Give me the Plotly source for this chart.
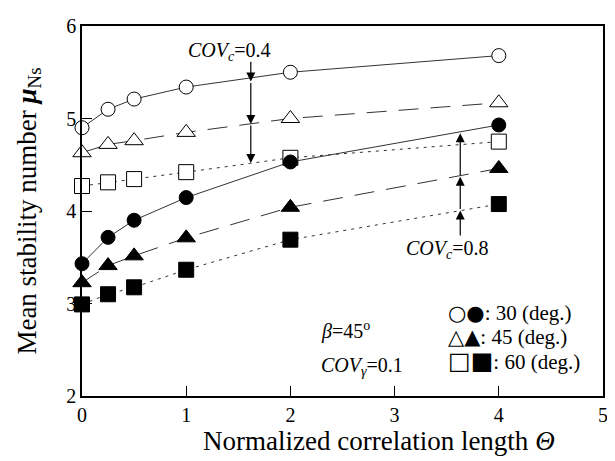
import plotly.graph_objects as go

# ---- data ----
theta = [0, 0.25, 0.5, 1, 2, 4]
# COVc = 0.4 (open markers)
open_30 = [4.90, 5.10, 5.21, 5.34, 5.50, 5.68]
open_45 = [4.63, 4.72, 4.76, 4.85, 5.00, 5.17]
open_60 = [4.27, 4.31, 4.345, 4.42, 4.575, 4.75]
# COVc = 0.8 (filled markers)
filled_30 = [3.43, 3.715, 3.90, 4.145, 4.53, 4.93]
filled_45 = [3.225, 3.41, 3.515, 3.71, 4.04, 4.46]
filled_60 = [2.99, 3.10, 3.175, 3.365, 3.69, 4.075]

x_ticks = [0, 1, 2, 3, 4, 5]
y_ticks = [2, 3, 4, 5, 6]

# arrow guides (x position, successive y stops)
arrow04_x = 1.62
arrow04_y = [5.63, 5.40, 4.94, 4.52]
arrow08_x = 3.63
arrow08_y = [3.72, 4.005, 4.37, 4.84]

FONT = "Liberation Serif"

series = [
    (open_30, "circle", "white", "solid"),
    (open_45, "triangle-up", "white", "20px,12px"),
    (open_60, "square", "white", "3px,5px"),
    (filled_30, "circle", "black", "solid"),
    (filled_45, "triangle-up", "black", "20px,12px"),
    (filled_60, "square", "black", "3px,5px"),
]
sizes = {"circle": 14, "triangle-up": 16, "square": 15}

fig = go.Figure()
for vals, sym, fill, dash in series:
    fig.add_trace(go.Scatter(
        x=theta, y=vals, mode="lines+markers",
        line=dict(color="#333333", width=1, dash=dash),
        marker=dict(symbol=sym, size=sizes[sym], color=fill,
                    line=dict(color="black", width=1)),
        showlegend=False, cliponaxis=False,
    ))

ann = []
# COVc = 0.4 arrows (pointing down)
for a, b in zip(arrow04_y[:-1], arrow04_y[1:]):
    ann.append(dict(x=arrow04_x, y=b, ax=arrow04_x, ay=a, xref="x", yref="y",
                    axref="x", ayref="y", showarrow=True, arrowhead=2,
                    arrowsize=1.5, arrowwidth=1.2, arrowcolor="black", text=""))
# COVc = 0.8 arrows (pointing up)
for a, b in zip(arrow08_y[:-1], arrow08_y[1:]):
    ann.append(dict(x=arrow08_x, y=b, ax=arrow08_x, ay=a, xref="x", yref="y",
                    axref="x", ayref="y", showarrow=True, arrowhead=2,
                    arrowsize=1.5, arrowwidth=1.2, arrowcolor="black", text=""))

def txt(x, y, s, xanchor="left", size=20):
    ann.append(dict(x=x, y=y, xref="x", yref="y", text=s, showarrow=False,
                    xanchor=xanchor, yanchor="middle",
                    font=dict(family=FONT, size=size, color="black")))

def glyphs(s, size):
    return f'<span style="font-family:DejaVu Sans;font-size:{size}px">{s}</span>'

txt(1.42, 5.72, "<i>COV</i><sub><i>c</i></sub>=0.4", "center")
txt(3.51, 3.58, "<i>COV</i><sub><i>c</i></sub>=0.8", "center")
txt(2.27, 2.71, "<i>β</i>=45<sup>o</sup>")
txt(2.27, 2.32, "<i>COV</i><sub><i>γ</i></sub>=0.1")
txt(3.49, 2.90, glyphs("○●", 21) + ": 30 (deg.)", size=21)
txt(3.49, 2.64, glyphs("△▲", 21) + ": 45 (deg.)", size=21)
txt(3.49, 2.375, glyphs("□■", 24) + ": 60 (deg.)", size=21)

# x-axis title as annotation (slightly right of centre, as in reference)
ann.append(dict(x=0.57, y=-0.077, xref="paper", yref="paper",
                text="Normalized correlation length <i>Θ</i>", showarrow=False,
                xanchor="center", yanchor="top",
                font=dict(family=FONT, size=27, color="black")))

fig.update_layout(
    width=607, height=453,
    margin=dict(l=74, r=8, t=7, b=65),
    paper_bgcolor="white", plot_bgcolor="white",
    font=dict(family=FONT, size=20, color="black"),
    annotations=ann,
    xaxis=dict(range=[0, 5], tickvals=x_ticks, ticks="inside", ticklen=10,
               tickwidth=1, tickcolor="black", showgrid=False, zeroline=False,
               showline=True, linecolor="black", linewidth=1.5, mirror=True,
               tickfont=dict(size=20), ticklabeloverflow="allow"),
    yaxis=dict(range=[2, 6], tickvals=y_ticks, ticks="inside", ticklen=10,
               tickwidth=1, tickcolor="black", showgrid=False, zeroline=False,
               showline=True, linecolor="black", linewidth=1.5, mirror=True,
               tickfont=dict(size=20), ticklabeloverflow="allow",
               title=dict(text="Mean stability number <i><b>μ</b></i><sub>Ns</sub>",
                          font=dict(size=27), standoff=22)),
)

fig.write_html("out.html")
